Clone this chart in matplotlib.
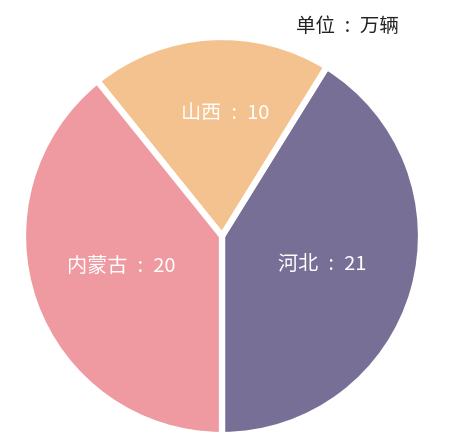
import matplotlib
matplotlib.use("Agg")
import matplotlib.pyplot as plt

plt.rcParams['font.family'] = ['Noto Sans CJK SC', 'DejaVu Sans']

categories = ['河北', '山西', '内蒙古']
values = [21, 10, 20]
colors = ['#776f96', '#f4c28e', '#ee9aa0']
unit_text = '单位\u2002:\u2002万辆'

fig = plt.figure(figsize=(4.5, 4.48), dpi=100)
W, H = 450, 448
cx, cy, r = 222, 236, 199
ax = fig.add_axes([(cx - r) / W, 1 - (cy + r) / H, 2 * r / W, 2 * r / H])

wedges, texts = ax.pie(values, colors=colors, startangle=-90, counterclock=True,
                       radius=1.0,
                       wedgeprops=dict(edgecolor='white', linewidth=4.5),
                       labels=[f'{c}\u2002:\u2002{v}' for c, v in zip(categories, values)],
                       labeldistance=0.55,
                       textprops=dict(color='white', fontsize=14.5))
ax.set_xlim(-1, 1)
ax.set_ylim(-1, 1)
ax.set_aspect('equal')

label_pos = {'河北': (322, 264), '山西': (225, 113), '内蒙古': (121, 266)}
for t, c in zip(texts, categories):
    px, py = label_pos[c]
    t.set_position(((px - cx) / r, (cy - py) / r))
    t.set_ha('center')
    t.set_va('center')

fig.text(347 / W, 1 - 27 / H, unit_text, ha='center', va='center', fontsize=14, color='#222222')

fig.savefig('out.png', dpi=100)
